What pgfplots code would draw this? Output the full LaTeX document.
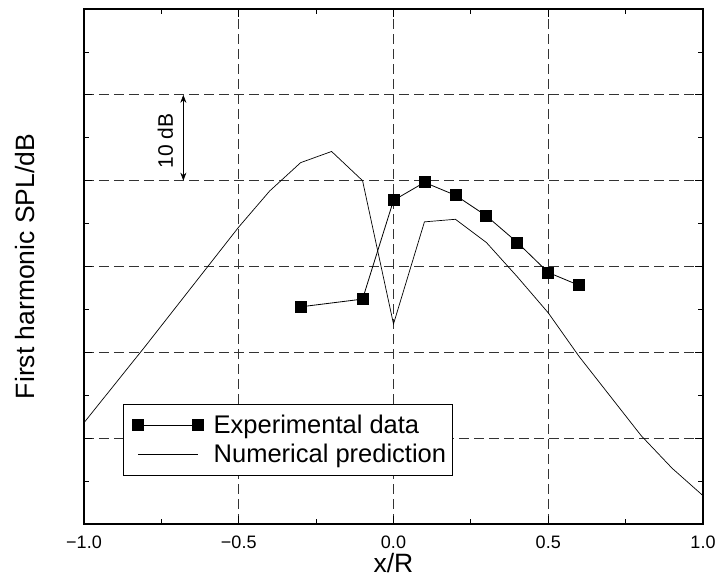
\documentclass[border=0pt]{standalone}
\usepackage{fontspec}
\setmainfont{Liberation Sans}
\usepackage{pgfplots}
\pgfplotsset{compat=1.18}
\usetikzlibrary{arrows.meta}
\begin{document}
\begin{tikzpicture}
\begin{axis}[
  scale only axis,
  width=619bp, height=515bp,
  xmin=-1, xmax=1, ymin=0, ymax=60,
  xtick={-1,-0.5,0,0.5,1},
  xticklabels={−1.0,−0.5,0.0,0.5,1.0},
  minor xtick={-0.75,-0.25,0.25,0.75},
  ytick={0,10,20,30,40,50,60},
  minor ytick={5,15,25,35,45,55},
  yticklabels={},
  xtick pos=both, ytick pos=both,
  tick align=inside,
  major tick length=8bp, minor tick length=5bp,
  every tick/.style={black, line width=0.8bp},
  axis line style={line width=1.4bp},
  ticklabel style={font=\fontsize{18bp}{21bp}\selectfont},
  xticklabel style={yshift=-8bp},
  xmajorgrids, ymajorgrids,
  major grid style={black!80, line width=0.9bp, dash pattern=on 10bp off 5bp},
  clip=false,
  legend cell align=left,
  legend style={at={(rel axis cs:0.063,0.233)}, anchor=north west,
    draw=black, line width=0.8bp, font=\fontsize{25.5bp}{29bp}\selectfont,
    inner xsep=4bp, inner ysep=9bp, row sep=5bp},
]
\addplot[black, line width=0.8bp, mark=square*, mark size=5.5bp,
  mark options={solid, fill=black},
  legend image code/.code={\draw plot coordinates {(0bp,0bp) (60bp,0bp)};
     \path (-10.5bp,0bp) (73bp,0bp);}]
  coordinates {
  (-0.3,25.3) (-0.1,26.2) (0,37.7) (0.1,39.8) (0.2,38.3)
  (0.3,35.9) (0.4,32.8) (0.5,29.3) (0.6,27.8)};
\addlegendentry{Experimental data}
\addplot[black, line width=0.7bp, no marks,
  legend image code/.code={\draw (0bp,0bp) -- (60bp,0bp);
     \path (-10.5bp,0bp) (73bp,0bp);}]
  coordinates {
  (-1,11.8) (-0.9,16.3) (-0.8,20.8) (-0.7,25.4) (-0.6,30.0) (-0.5,34.6)
  (-0.4,38.8) (-0.3,42.1) (-0.2,43.4) (-0.1,40.0) (0,23.3) (0.1,35.2)
  (0.2,35.5) (0.3,32.8) (0.4,28.8) (0.5,24.6) (0.6,19.5) (0.7,14.9)
  (0.8,10.3) (0.9,6.5) (1.0,3.3)};
\addlegendentry{Numerical prediction}
\draw[{Stealth[length=8bp,width=6bp]}-{Stealth[length=8bp,width=6bp]}, line width=0.7bp]
  (axis cs:-0.679,40) -- (axis cs:-0.679,50);
\node[rotate=90, font=\fontsize{21bp}{24bp}\selectfont] at (axis cs:-0.737,44.6) {10 dB};
\node[font=\fontsize{26.5bp}{30bp}\selectfont] at ([yshift=-39bp]rel axis cs:0.5,0) {x/R};
\node[rotate=90, font=\fontsize{26.5bp}{30bp}\selectfont] at ([xshift=-59bp]rel axis cs:0,0.5) {First harmonic SPL/dB};
\coordinate (SW) at (rel axis cs:0,0);
\coordinate (NE) at (rel axis cs:1,1);
\end{axis}
\pgfresetboundingbox
\path[use as bounding box] ([shift={(-84bp,-55bp)}]SW) rectangle ([shift={(17bp,9bp)}]NE);
\end{tikzpicture}
\end{document}
